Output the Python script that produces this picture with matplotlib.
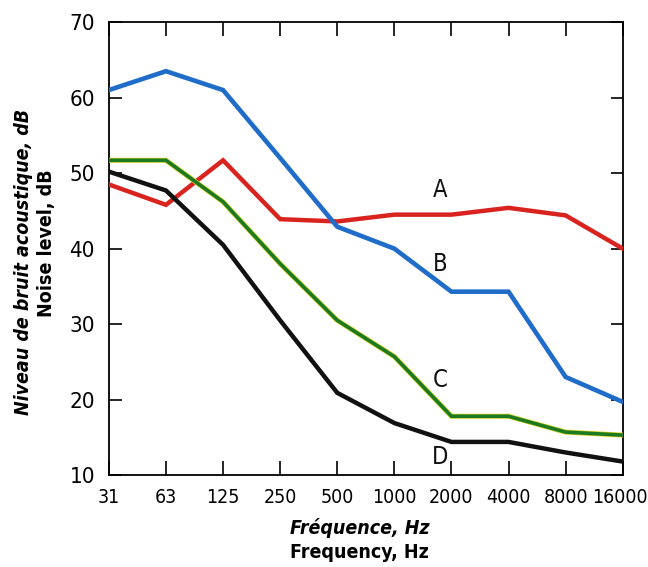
import matplotlib
matplotlib.use("Agg")
import matplotlib.pyplot as plt
from matplotlib import font_manager
import matplotlib.transforms as mtransforms

freqs = ["31", "63", "125", "250", "500", "1000", "2000", "4000", "8000", "16000"]
curve_A = [48.5, 45.8, 51.7, 43.9, 43.6, 44.5, 44.5, 45.4, 44.4, 40.0]
curve_B = [61.0, 63.5, 61.0, 52.0, 42.9, 40.0, 34.3, 34.3, 23.0, 19.7]
curve_C = [51.7, 51.7, 46.2, 38.0, 30.5, 25.7, 17.8, 17.8, 15.7, 15.3]
curve_D = [50.2, 47.7, 40.5, 30.5, 20.9, 16.9, 14.4, 14.4, 13.0, 11.8]
yticks = [10, 20, 30, 40, 50, 60, 70]

cond = [f for f in font_manager.fontManager.ttflist if 'Condensed' in f.fname and 'DejaVuSans' in f.fname]
if cond:
    fam = ['DejaVu Sans']
    stretch = 'condensed'
    k = 1.0
else:
    fam = ['Liberation Sans', 'DejaVu Sans']
    stretch = 'normal'
    k = 0.92
plt.rcParams['font.family'] = fam
plt.rcParams['font.stretch'] = stretch

fig = plt.figure(figsize=(6.48, 5.67), dpi=100)
ax = fig.add_axes([0.168, 0.162, 0.793, 0.799])
x = list(range(len(freqs)))

ax.plot(x, curve_A, color="#d8231f", lw=3.2, solid_joinstyle='miter', zorder=3)
ax.plot(x, curve_B, color="#1f6cc9", lw=3.3, solid_joinstyle='miter', zorder=3)
ax.plot(x, curve_C, color="#d9d21a", lw=3.6, solid_joinstyle='miter', zorder=3)
ax.plot(x, curve_C, color="#1b7a22", lw=2.6, solid_joinstyle='miter', zorder=3)
ax.plot(x, curve_D, color="#111111", lw=3.2, solid_joinstyle='miter', zorder=3)

for lab, yy in [("A", 47.8), ("B", 38.0), ("C", 22.6), ("D", 12.4)]:
    ax.text(5.8, yy, lab, fontsize=17 * k, ha='center', va='center', color='#111111')

ax.set_xlim(0, 9)
ax.set_ylim(10, 70)
ax.set_xticks(x)
ax.set_xticklabels(freqs)
ax.set_yticks(yticks)
ax.set_yticklabels([str(v) for v in yticks])
ax.tick_params(axis='x', direction='in', length=10, width=1.2, top=True, pad=9, labelsize=14 * k)
ax.tick_params(axis='y', direction='in', length=9, width=1.2, pad=10, labelsize=16 * k, right=True)
for s in ax.spines.values():
    s.set_linewidth(1.3)

last = ax.get_xticklabels()[-1]
last.set_transform(last.get_transform() + mtransforms.ScaledTranslation(-3 / 100, 0, fig.dpi_scale_trans))

cx = 0.555
fig.text(cx, 0.069, "Fréquence, Hz", ha='center', va='center', fontsize=14 * k,
         fontweight='bold', fontstyle='italic')
fig.text(cx, 0.025, "Frequency, Hz", ha='center', va='center', fontsize=14 * k,
         fontweight='bold')
fig.text(0.036, 0.538, "Niveau de bruit acoustique, dB", rotation=90, ha='center',
         va='center', fontsize=14 * k, fontweight='bold', fontstyle='italic')
fig.text(0.071, 0.571, "Noise level, dB", rotation=90, ha='center',
         va='center', fontsize=14 * k, fontweight='bold')

fig.savefig("out.png", dpi=100)
